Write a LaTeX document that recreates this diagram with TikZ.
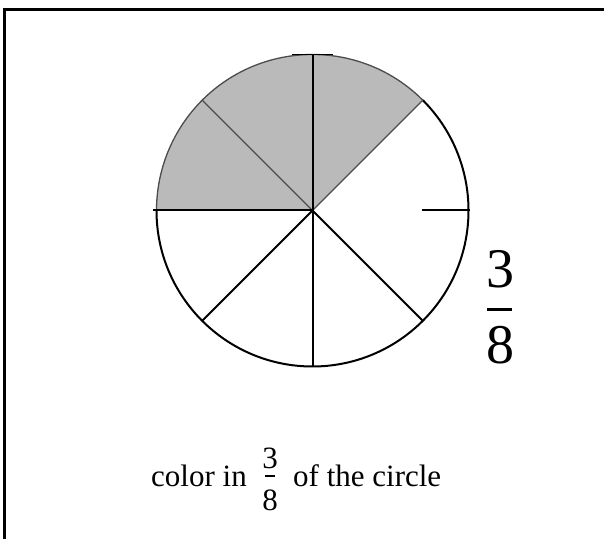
\documentclass[tikz,border=0pt]{standalone}
\usepackage{fontspec}
\setmainfont{Liberation Serif}
\usetikzlibrary{calc}

\begin{document}
\begin{tikzpicture}[x=1pt, y=1pt,
  frame/.style={line width=3pt, line cap=rect},
  rim/.style={line width=2pt},
  spoke/.style={line width=2pt},
  edge/.style={draw=black!70, line width=1.3pt},
  bar/.style={line width=3pt},
  big/.style={font=\fontsize{56}{60}\selectfont, inner sep=0pt, anchor=base},
  small/.style={font=\fontsize{31}{35}\selectfont, inner sep=0pt, anchor=base}]
\useasboundingbox (0,0) rectangle (604,538);

% --- frame, cut off at right and bottom
\draw[frame] (4.5,0) |- (604,528.3);

% --- circle in eighths, three shaded
\coordinate (c) at (312.5,327.5);
\path (c) ++(45:156) coordinate (p45) (c) ++(180:156) coordinate (p180);
\fill[black!27] (c) -- (p45) arc[start angle=45, end angle=180, radius=156] -- cycle;
\draw[edge] (p45) arc[start angle=45, end angle=180, radius=156];
\draw[rim] (p180) arc[start angle=180, end angle=405, radius=156];
\foreach \a in {45,135}
  \draw[edge] (c) -- ++(\a:156);
\foreach \a in {90,225,270,315}
  \draw[spoke] (c) -- ++(\a:156);
\draw[spoke] (c) -- ++(180:160);
\draw[spoke] ($(c)+(109,0)$) -- ($(c)+(157,0)$);
\draw[line width=1.5pt] ($(c)+(-20.5,156)$) -- ($(c)+(20.5,156)$);

% --- big fraction at the right
\node[big] (bnum) at (500,250) {3};
\node[big] (bden) at (500,175) {8};
\coordinate (bbarL) at (487,228.5);
\coordinate (bbarR) at (512,228.5);
\draw[bar] (bbarL) -- (bbarR);

% --- instruction
\node[small, anchor=base west] (lead) at (151,52) {color in};
\node[small] (snum) at (270,70) {3};
\node[small] (sden) at (270,28) {8};
\coordinate (sbarL) at (265,62);
\coordinate (sbarR) at (275,62);
\draw[line width=2.5pt] (sbarL) -- (sbarR);
\node[small, anchor=base west] (tail) at (293,52) {of the circle};
\end{tikzpicture}
\end{document}
